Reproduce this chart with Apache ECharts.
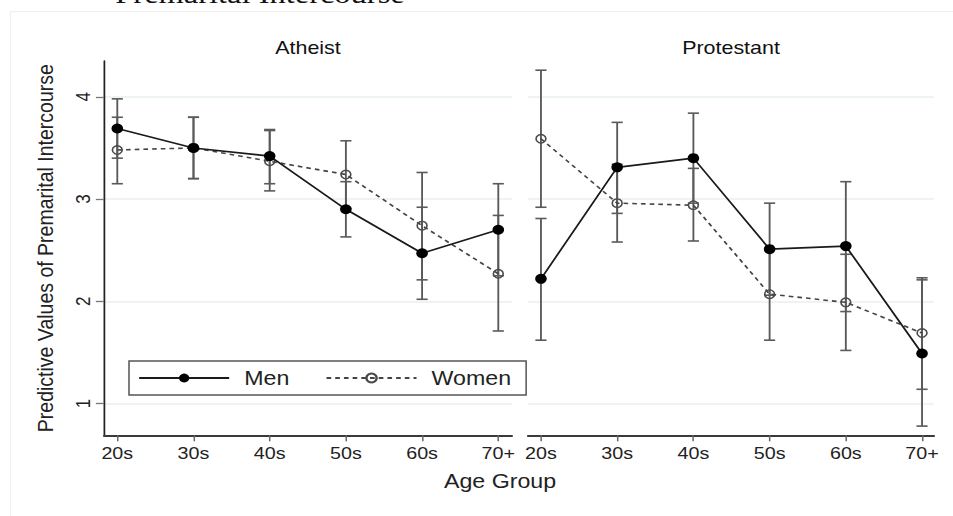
<!DOCTYPE html>
<html>
<head>
<meta charset="utf-8">
<script src="https://cdn.jsdelivr.net/npm/echarts@6/dist/echarts.min.js"></script>
<style>
  html, body { margin: 0; padding: 0; background: #fff; overflow: hidden; }
  #main { height: 516px; transform-origin: 0 0; }
</style>
</head>
<body>
<div id="main"></div>
<script>
// Predicted values of premarital intercourse by age group, sex and religion
const ageGroups = ['20s', '30s', '40s', '50s', '60s', '70+'];
const yTicks = [1, 2, 3, 4];

const atheistMen       = [3.69, 3.50, 3.42, 2.90, 2.47, 2.70];
const atheistMenLow    = [3.40, 3.20, 3.15, 2.63, 2.02, 2.25];
const atheistMenHigh   = [3.98, 3.80, 3.68, 3.17, 2.92, 3.15];
const atheistWomen     = [3.48, 3.50, 3.37, 3.24, 2.74, 2.27];
const atheistWomenLow  = [3.15, 3.20, 3.08, 2.91, 2.21, 1.71];
const atheistWomenHigh = [3.80, 3.80, 3.67, 3.57, 3.26, 2.84];

const protMen       = [2.22, 3.31, 3.40, 2.51, 2.54, 1.49];
const protMenLow    = [1.62, 2.86, 2.96, 2.06, 1.90, 0.78];
const protMenHigh   = [2.81, 3.75, 3.84, 2.96, 3.17, 2.21];
const protWomen     = [3.59, 2.96, 2.94, 2.07, 1.99, 1.69];
const protWomenLow  = [2.92, 2.58, 2.59, 1.62, 1.52, 1.14];
const protWomenHigh = [4.26, 3.34, 3.30, 2.52, 2.46, 2.23];

// The figure is laid out on a narrower canvas and widened horizontally.
const S = 1.16;
const W = 953 / S;
const X = v => v / S;

const el = document.getElementById('main');
el.style.width = W + 'px';
el.style.transform = 'scaleX(' + S + ')';

const FONT = "'Liberation Sans', Arial, Helvetica, sans-serif";
const idx = ageGroups.map((_, i) => i);

function points(vals) { return vals.map((v, i) => [i, v]); }
function ranges(lo, hi) { return lo.map((v, i) => [i, v, hi[i]]); }

function errorBars(name, gi, lo, hi) {
  return {
    type: 'custom', name: name + ' CI', xAxisIndex: gi, yAxisIndex: gi, z: 1,
    silent: true,
    data: ranges(lo, hi),
    encode: { x: 0, y: [1, 2] },
    renderItem: function (params, api) {
      const x = api.value(0);
      const a = api.coord([x, api.value(1)]);
      const b = api.coord([x, api.value(2)]);
      const hw = 4.8;
      const st = { stroke: '#5a5a5a', lineWidth: 1.6 };
      return {
        type: 'group',
        children: [
          { type: 'line', shape: { x1: a[0], y1: a[1], x2: b[0], y2: b[1] }, style: st },
          { type: 'line', shape: { x1: a[0] - hw, y1: a[1], x2: a[0] + hw, y2: a[1] }, style: st },
          { type: 'line', shape: { x1: b[0] - hw, y1: b[1], x2: b[0] + hw, y2: b[1] }, style: st }
        ]
      };
    }
  };
}

function menLine(gi, vals) {
  return {
    type: 'line', name: 'Men', xAxisIndex: gi, yAxisIndex: gi, z: 3,
    data: points(vals),
    symbol: 'circle', symbolSize: 10,
    itemStyle: { color: '#000' },
    lineStyle: { color: '#1a1a1a', width: 1.6 }
  };
}

function womenLine(gi, vals) {
  return {
    type: 'line', name: 'Women', xAxisIndex: gi, yAxisIndex: gi, z: 2,
    data: points(vals),
    symbol: 'circle', symbolSize: 8.5,
    itemStyle: { color: 'rgba(255,255,255,0)', borderColor: '#4a4a4a', borderWidth: 1.4 },
    lineStyle: { color: '#444', width: 1.6, type: [4, 3.5] }
  };
}

function xAxis(gi, min, max) {
  return {
    type: 'value', gridIndex: gi, min: min, max: max,
    axisLine: { show: true, onZero: false, lineStyle: { color: '#3a3a3a', width: 1.8 } },
    axisTick: { show: true, customValues: idx, length: 6, lineStyle: { color: '#666', width: 1.3 } },
    axisLabel: {
      customValues: idx, formatter: v => ageGroups[Math.round(v)],
      margin: 9, fontSize: 17, color: '#222', fontFamily: FONT
    },
    splitLine: { show: false }
  };
}

function yAxis(gi, showAxis) {
  const ax = {
    type: 'value', gridIndex: gi, min: 0.69, max: 4.35,
    axisLine: { show: showAxis, onZero: false, lineStyle: { color: '#222', width: 1.5 } },
    axisTick: { show: showAxis, customValues: yTicks, length: 7, lineStyle: { color: '#777', width: 1.3 } },
    axisLabel: {
      show: showAxis, customValues: yTicks, rotate: 90, margin: 10,
      fontSize: 17, color: '#222', fontFamily: FONT
    },
    splitLine: { show: true, lineStyle: { color: '#e8f0f0', width: 1.5 } }
  };
  if (showAxis) {
    ax.name = 'Predictive Values of Premarital Intercourse';
    ax.nameLocation = 'middle';
    ax.nameRotate = 90;
    ax.nameGap = 41;
    ax.nameTextStyle = { fontSize: 19.5, color: '#222', fontFamily: FONT };
  }
  return ax;
}

const option = {
  animation: false,
  backgroundColor: '#fff',
  textStyle: { fontFamily: FONT },
  title: [
    { text: 'Atheist', left: X(308), top: 38, textAlign: 'center', padding: 0,
      textStyle: { fontSize: 18.5, fontWeight: 'normal', color: '#111', fontFamily: FONT } },
    { text: 'Protestant', left: X(731), top: 38, textAlign: 'center', padding: 0,
      textStyle: { fontSize: 18.5, fontWeight: 'normal', color: '#111', fontFamily: FONT } }
  ],
  graphic: [
    { type: 'rect', silent: true, z: -10,
      shape: { x: X(10.5), y: 11.5, width: 1000, height: 600 },
      style: { fill: 'none', stroke: '#efefef', lineWidth: 1 } },
    { type: 'text', silent: true, x: X(260), y: -6.5,
      style: { text: 'Premarital Intercourse', font: "28px 'Liberation Serif', 'Times New Roman', serif",
               fill: '#111', align: 'center', verticalAlign: 'middle' } },
    { type: 'text', silent: true, x: X(500), y: 481,
      style: { text: 'Age Group', font: "20px " + FONT, fill: '#222',
               align: 'center', verticalAlign: 'middle' } }
  ],
  legend: {
    data: ['Men', 'Women'],
    left: X(129), top: 361,
    orient: 'horizontal',
    itemWidth: X(90), itemHeight: 11, itemGap: X(36),
    padding: [7, X(15), 7, X(9)],
    borderColor: '#555', borderWidth: 1.3,
    textStyle: { fontSize: 20, color: '#222', fontFamily: FONT, padding: [0, 0, 0, 8] },
    selectedMode: false
  },
  grid: [
    { left: X(104), width: X(512) - X(104), top: 61, height: 374.3 },
    { left: X(528), width: X(934) - X(528), top: 61, height: 374.3 }
  ],
  xAxis: [xAxis(0, -0.1745, 5.18), xAxis(1, -0.17, 5.157)],
  yAxis: [yAxis(0, true), yAxis(1, false)],
  series: [
    errorBars('Men', 0, atheistMenLow, atheistMenHigh),
    errorBars('Women', 0, atheistWomenLow, atheistWomenHigh),
    menLine(0, atheistMen),
    womenLine(0, atheistWomen),
    errorBars('Men', 1, protMenLow, protMenHigh),
    errorBars('Women', 1, protWomenLow, protWomenHigh),
    menLine(1, protMen),
    womenLine(1, protWomen)
  ]
};

const chart = echarts.init(el, null, { renderer: 'svg' });
chart.setOption(option);
</script>
</body>
</html>
